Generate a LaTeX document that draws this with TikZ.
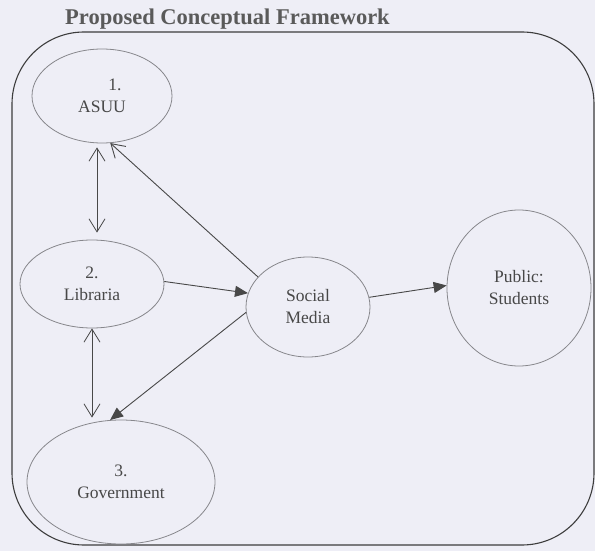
\documentclass[tikz,border=0pt]{standalone}
\usepackage{fontspec}
\setmainfont{Liberation Serif}
\usetikzlibrary{shapes.geometric,arrows.meta}
\definecolor{paper}{RGB}{238,238,246}
\definecolor{ink}{RGB}{72,72,72}
\definecolor{rim}{RGB}{135,135,140}

\begin{document}
\begin{tikzpicture}[x=1pt,y=-1pt,
  actor/.style={ellipse,draw=rim,line width=0.8pt,inner sep=0pt,align=center,
    text=ink,font=\fontsize{17.5}{22}\selectfont},
  twoway/.style={draw=ink,line width=0.8pt,
    {Straight Barb[length=13pt,width=16pt]}-{Straight Barb[length=13pt,width=16pt]}},
  feed/.style={draw=ink,line width=0.9pt,-{Straight Barb[length=13pt,width=16pt]}},
  flow/.style={draw=ink,line width=0.9pt,-{Triangle[length=13pt,width=11pt]}}]
\useasboundingbox (0,0) rectangle (595,551);
\fill[paper] (0,0) rectangle (595,551);
\node[anchor=base,text=ink!90,font=\fontsize{22.5}{27}\selectfont\bfseries] (title) at (227.5,25)
  {Proposed Conceptual Framework};
\draw[draw=ink!85!black,line width=1.1pt,rounded corners=72pt] (12,32) rectangle (594,545);
% the bodies
\node[actor,minimum width=140pt,minimum height=94pt] (asuu) at (102,96) {\hspace*{26pt}1.\\ASUU};
\node[actor,minimum width=144pt,minimum height=88pt] (lib) at (92,284) {2.\\Libraria};
\node[actor,minimum width=188pt,minimum height=124pt] (gov) at (121,482) {3.\\Government};
\node[actor,minimum width=124pt,minimum height=100pt] (soc) at (308,307) {Social\\Media};
\node[actor,minimum width=144pt,minimum height=156pt] (pub) at (519,288) {Public:\\Students};
% links
\draw[twoway,shorten <=4pt,shorten >=7pt] ([xshift=-5pt]asuu.south) -- ([xshift=5pt]lib.north);
\draw[twoway,shorten >=2pt] (lib.south) -- (lib.south |- gov.north);
\draw[feed] (soc.149) -- (asuu.-80);
\draw[flow] (lib.2) -- (soc.167);
\draw[flow] (soc.185) -- (gov.100);
\draw[flow] (soc.9) -- (pub.178);
\end{tikzpicture}
\end{document}
